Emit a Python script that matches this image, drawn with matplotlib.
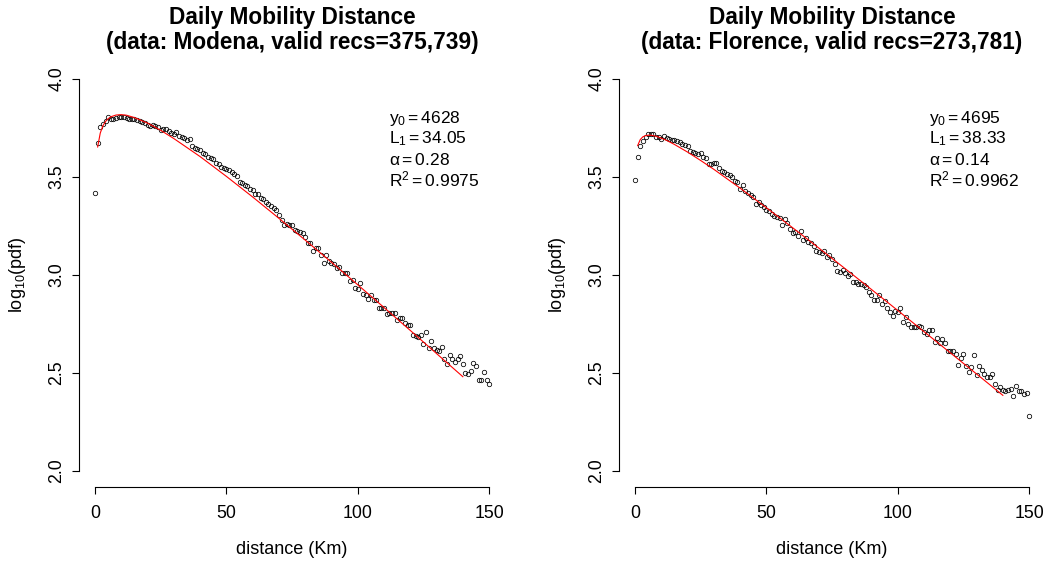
import matplotlib
matplotlib.use("Agg")
import matplotlib.pyplot as plt


# distance bins (km), same for both cities
distance_km = list(range(0, 151))

# log10(pdf), one value per km bin
modena_logpdf = [
	3.420, 3.675, 3.755, 3.770, 3.786, 3.806, 3.794, 3.798, 3.799, 3.804,
	3.808, 3.806, 3.799, 3.796, 3.798, 3.796, 3.789, 3.787, 3.782, 3.774,
	3.767, 3.760, 3.764, 3.760, 3.755, 3.741, 3.747, 3.743, 3.736, 3.726,
	3.719, 3.728, 3.707, 3.702, 3.701, 3.688, 3.696, 3.658, 3.648, 3.641,
	3.640, 3.621, 3.619, 3.600, 3.595, 3.592, 3.571, 3.568, 3.549, 3.548,
	3.543, 3.537, 3.524, 3.515, 3.505, 3.476, 3.471, 3.459, 3.455, 3.440,
	3.433, 3.415, 3.413, 3.391, 3.388, 3.371, 3.362, 3.352, 3.340, 3.330,
	3.306, 3.281, 3.255, 3.259, 3.255, 3.255, 3.230, 3.225, 3.218, 3.213,
	3.192, 3.165, 3.162, 3.121, 3.136, 3.136, 3.102, 3.063, 3.102, 3.073,
	3.063, 3.056, 3.034, 3.043, 3.009, 3.009, 3.012, 2.971, 2.974, 2.935,
	2.927, 2.958, 2.901, 2.898, 2.879, 2.896, 2.872, 2.872, 2.830, 2.830,
	2.830, 2.801, 2.804, 2.804, 2.804, 2.770, 2.782, 2.779, 2.757, 2.743,
	2.743, 2.694, 2.689, 2.682, 2.692, 2.648, 2.711, 2.626, 2.665, 2.626,
	2.617, 2.612, 2.631, 2.570, 2.544, 2.590, 2.571, 2.554, 2.570, 2.587,
	2.548, 2.498, 2.495, 2.510, 2.553, 2.537, 2.464, 2.464, 2.507, 2.464,
	2.446,
]

florence_logpdf = [
	3.483, 3.602, 3.656, 3.682, 3.706, 3.718, 3.718, 3.718, 3.706, 3.702,
	3.692, 3.709, 3.699, 3.692, 3.689, 3.689, 3.682, 3.679, 3.667, 3.664,
	3.658, 3.634, 3.629, 3.620, 3.617, 3.621, 3.604, 3.595, 3.566, 3.566,
	3.573, 3.573, 3.544, 3.531, 3.524, 3.514, 3.510, 3.502, 3.481, 3.473,
	3.440, 3.457, 3.429, 3.417, 3.408, 3.396, 3.362, 3.371, 3.357, 3.349,
	3.332, 3.327, 3.313, 3.301, 3.298, 3.289, 3.255, 3.287, 3.264, 3.235,
	3.213, 3.218, 3.201, 3.226, 3.179, 3.189, 3.167, 3.162, 3.148, 3.122,
	3.119, 3.114, 3.122, 3.090, 3.104, 3.080, 3.054, 3.022, 3.015, 3.025,
	3.012, 2.995, 3.003, 2.963, 2.966, 2.952, 2.952, 2.949, 2.937, 2.912,
	2.898, 2.874, 2.874, 2.898, 2.852, 2.869, 2.833, 2.811, 2.793, 2.816,
	2.813, 2.830, 2.760, 2.787, 2.750, 2.733, 2.736, 2.736, 2.741, 2.733,
	2.711, 2.697, 2.719, 2.719, 2.660, 2.677, 2.655, 2.672, 2.651, 2.614,
	2.614, 2.612, 2.599, 2.541, 2.575, 2.597, 2.536, 2.507, 2.529, 2.590,
	2.490, 2.537, 2.515, 2.493, 2.481, 2.481, 2.495, 2.444, 2.413, 2.430,
	2.413, 2.410, 2.413, 2.417, 2.383, 2.435, 2.408, 2.408, 2.393, 2.396,
	2.281,
]

# fitted curve (red), read at a few distances
fit_km = [1, 2, 3, 4, 5, 6, 8, 10, 12, 15, 20, 25, 30, 40, 50, 60, 70,
	80, 90, 100, 110, 120, 130, 140]
modena_fit = [3.653, 3.724, 3.761, 3.783, 3.797, 3.807, 3.816, 3.818,
	3.815, 3.803, 3.775, 3.738, 3.696, 3.604, 3.503, 3.398, 3.289,
	3.178, 3.065, 2.950, 2.834, 2.717, 2.599, 2.481]
florence_fit = [3.660, 3.691, 3.705, 3.711, 3.713, 3.713, 3.708, 3.698,
	3.687, 3.666, 3.627, 3.584, 3.539, 3.443, 3.343, 3.241, 3.137,
	3.032, 2.926, 2.819, 2.711, 2.603, 2.495, 2.386]

titles = ["Daily Mobility Distance\n(data: Modena, valid recs=375,739)",
	"Daily Mobility Distance\n(data: Florence, valid recs=273,781)"]
fit_labels = [
	[r"$\mathrm{y_0 = 4628}$", r"$\mathrm{L_1 = 34.05}$",
		r"$\mathrm{\alpha = 0.28}$", r"$\mathrm{R^2 = 0.9975}$"],
	[r"$\mathrm{y_0 = 4695}$", r"$\mathrm{L_1 = 38.33}$",
		r"$\mathrm{\alpha = 0.14}$", r"$\mathrm{R^2 = 0.9962}$"],
]

plt.rcParams["font.family"] = ["Liberation Sans", "DejaVu Sans"]
plt.rcParams["mathtext.fontset"] = "custom"
plt.rcParams["mathtext.rm"] = "Liberation Sans"
plt.rcParams["mathtext.it"] = "Liberation Sans:italic"
plt.rcParams["mathtext.bf"] = "Liberation Sans:bold"


def draw_panel(fig, left, logpdf, fit, title, labels):
	ax = fig.add_axes([left, 0.1386, 0.4050, 0.7494])
	ax.plot(distance_km, logpdf, "o", mfc="none", mec="black", ms=3.2, mew=0.55)
	ax.plot(fit_km, fit, "-", color="red", lw=0.8)

	ax.set_xlim(-6, 156)
	ax.set_ylim(1.92, 4.08)
	ax.set_xticks([0, 50, 100, 150])
	ax.set_yticks([2.0, 2.5, 3.0, 3.5, 4.0])
	ax.set_yticklabels(["2.0", "2.5", "3.0", "3.5", "4.0"])

	for s in ["top", "right"]:
		ax.spines[s].set_visible(False)
	ax.spines["left"].set_bounds(2, 4)
	ax.spines["bottom"].set_bounds(0, 150)
	ax.spines["left"].set_linewidth(0.8)
	ax.spines["bottom"].set_linewidth(0.8)
	ax.tick_params(length=5, width=0.8, labelsize=12.8)
	ax.tick_params(axis="x", pad=8.5)
	ax.tick_params(axis="y", labelrotation=90, pad=5)
	for lab in ax.get_yticklabels():
		lab.set_va("center")

	# fit parameters
	ys = [3.796, 3.694, 3.587, 3.485]
	for txt, y in zip(labels, ys):
		ax.text(112, y, txt, fontsize=12.5, ha="left", va="center")

	cx = left + 0.4050 * (6 + 75) / 162.0
	fig.text(cx, 0.947, title, ha="center", va="center", fontsize=16.3,
		fontweight="bold", linespacing=1.1)
	fig.text(cx, 0.028, "distance (Km)", ha="center", va="center", fontsize=13)
	fig.text(left - 0.0583, 0.5133, r"$\mathrm{log_{10}(pdf)}$", rotation=90,
		ha="center", va="center", fontsize=13)
	return ax


def plot():
	fig = plt.figure(figsize=(10.51, 5.65), dpi=100)
	draw_panel(fig, 0.0754, modena_logpdf, modena_fit, titles[0], fit_labels[0])
	draw_panel(fig, 0.5892, florence_logpdf, florence_fit, titles[1], fit_labels[1])
	fig.savefig("out.png", dpi=100)


def main():
	plot()

if __name__ == "__main__":
	main()
